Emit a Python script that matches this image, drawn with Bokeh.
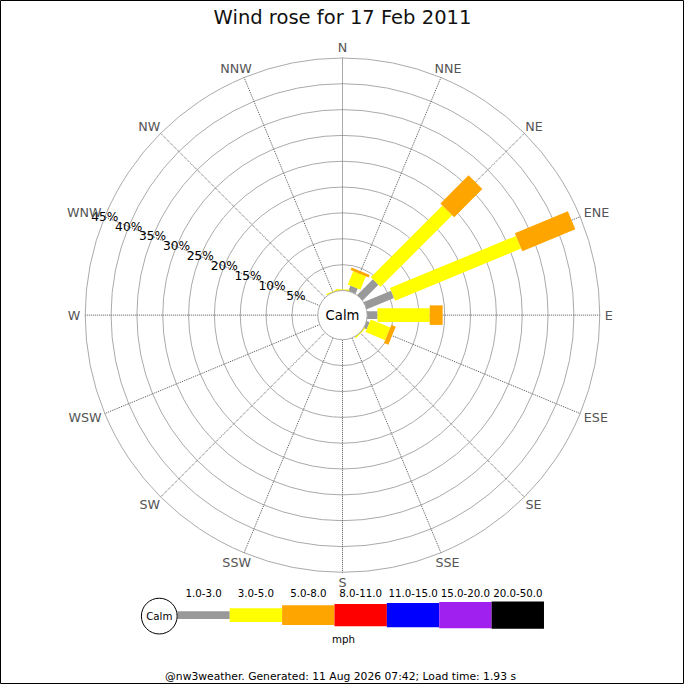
import math

from bokeh.core.properties import value
from bokeh.embed import file_html
from bokeh.models import Range1d
from bokeh.plotting import figure
from bokeh.resources import INLINE

# Data, in percent of the day's observations, per compass point (N clockwise)
directions = ["N", "NNE", "NE", "ENE", "E", "ESE", "SE", "SSE",
              "S", "SSW", "SW", "WSW", "W", "WNW", "NW", "NNW"]
speed_classes = ["1.0-3.0", "3.0-5.0", "5.0-8.0", "8.0-11.0",
                 "11.0-15.0", "15.0-20.0", "20.0-50.0"]
speed_1_3 = [0, 1.1, 4.3, 5.7, 2.0, 0.6, 0, 0, 0, 0, 0, 0, 0, 0, 0, 0]
speed_3_5 = [0.2, 2.8, 19.6, 26.4, 10.1, 4.1, 0.2, 0, 0, 0, 0, 0, 0, 0, 0, 0.2]
speed_5_8 = [0, 0.5, 7.7, 11.1, 2.5, 0.9, 0, 0, 0, 0, 0, 0, 0, 0, 0, 0]
ring_pcts = [5, 10, 15, 20, 25, 30, 35, 40, 45]
title = "Wind rose for 17 Feb 2011"
units = "mph"
footer = "@nw3weather. Generated: 11 Aug 2026 07:42; Load time: 1.93 s"

# styling
class_colors = ["#999999", "#ffff00", "#ffa500", "#ff0000", "#0000ff", "#a020f0", "#000000"]
FONT = value("DejaVu Sans")

# geometry: data units are percent; px values are measured on a 700px page
SIZE = 684
S = SIZE / 700     # screen scale of the whole picture
PX = 5.29          # page pixels per percent
CX, CY = 350, 322  # rose centre on the page
CALM_R = 25.25 / PX
R_OUT = CALM_R + ring_pcts[-1]
class_widths = [w * S for w in [8, 14, 20, 23, 25, 27, 28]]


def sx(px):
    return (px - CX) / PX


def sy(py):
    return (CY - py) / PX


def fsize(px):
    return f"{px * S:.2f}px"


p = figure(width=SIZE, height=SIZE, output_backend="svg", toolbar_location=None,
           x_range=Range1d(sx(0), sx(700)), y_range=Range1d(sy(700), sy(0)),
           min_border=0)
p.axis.visible = False
p.grid.visible = False
p.outline_line_color = "black"
p.background_fill_color = "white"
p.border_fill_color = "white"

# rings
p.circle(x=[0] * len(ring_pcts), y=[0] * len(ring_pcts),
         radius=[CALM_R + v for v in ring_pcts],
         fill_color=None, line_color="#aaaaaa", line_width=1)

# direction spokes
angles = [math.radians(90 - 22.5 * i) for i in range(len(directions))]
p.segment(x0=[CALM_R * math.cos(a) for a in angles], y0=[CALM_R * math.sin(a) for a in angles],
          x1=[R_OUT * math.cos(a) for a in angles], y1=[R_OUT * math.sin(a) for a in angles],
          line_color="#555555", line_dash="1 1", line_width=1)

# stacked legs
series = [speed_1_3, speed_3_5, speed_5_8]
cum = [0.0] * len(directions)
for k, vals in enumerate(series):
    x0, y0, x1, y1 = [], [], [], []
    for i, v in enumerate(vals):
        if v <= 0:
            continue
        r0 = CALM_R + cum[i] if cum[i] > 0 else 0
        r1 = CALM_R + cum[i] + v
        a = angles[i]
        x0.append(r0 * math.cos(a))
        y0.append(r0 * math.sin(a))
        x1.append(r1 * math.cos(a))
        y1.append(r1 * math.sin(a))
        cum[i] += v
    p.segment(x0=x0, y0=y0, x1=x1, y1=y1, line_color=class_colors[k],
              line_width=class_widths[k], line_cap="butt")

# calm circle
p.circle(x=[0], y=[0], radius=CALM_R, fill_color="white", line_color="#aaaaaa", line_width=1)
p.text(x=[0], y=[0], text=["Calm"], text_font=FONT, text_font_size=fsize(13.5),
       text_align="center", text_baseline="middle", text_color="black")

# percentage labels along WNW
a_lab = math.radians(157.5)
p.text(x=[(CALM_R + v) * math.cos(a_lab) for v in ring_pcts],
       y=[(CALM_R + v) * math.sin(a_lab) for v in ring_pcts],
       text=[f"{v}%" for v in ring_pcts], text_font=FONT, text_font_size=fsize(12.5),
       text_align="center", text_baseline="middle", text_color="black")

# compass labels
em = {"N": 0.748, "E": 0.632, "S": 0.635, "W": 0.989}
fs = 13
lx, ly = [], []
for d, a in zip(directions, angles):
    w = fs * sum(em[c] for c in d)
    h = fs * 0.8
    r = R_OUT * PX + 5
    lx.append(((r + w / 2) * math.cos(a)) / PX)
    ly.append(((r + h / 2) * math.sin(a)) / PX)
p.text(x=lx, y=ly, text=directions, text_font=FONT, text_font_size=fsize(fs),
       text_align="center", text_baseline="middle", text_color="#555555")

# title
p.text(x=[sx(350)], y=[sy(17)], text=[title], text_font=FONT, text_font_size=fsize(20),
       text_align="center", text_baseline="middle", text_color="#111111")

# legend
box_w = 53.6
box_x = [sx(181 + box_w * (i + 0.5)) for i in range(len(speed_classes))]
p.rect(x=box_x, y=sy(629), width=box_w / PX, height=class_widths, height_units="screen",
       fill_color=class_colors, line_color=None)
p.text(x=box_x, y=sy(606.5), text=speed_classes, text_font=FONT, text_font_size=fsize(10.5),
       text_align="center", text_baseline="middle", text_color="black")
p.circle(x=[sx(162.5)], y=[sy(630)], radius=18.3 / PX, fill_color="white",
         line_color="black", line_width=1)
p.text(x=[sx(162.5)], y=[sy(630)], text=["Calm"], text_font=FONT, text_font_size=fsize(10.5),
       text_align="center", text_baseline="middle", text_color="black")
p.text(x=[sx(351)], y=[sy(653)], text=[units], text_font=FONT, text_font_size=fsize(10.5),
       text_align="center", text_baseline="middle", text_color="black")

# footer
p.text(x=[sx(348)], y=[sy(692)], text=[footer], text_font=FONT, text_font_size=fsize(11),
       text_align="center", text_baseline="middle", text_color="black")

open("out.html", "w").write(file_html(p, INLINE))
